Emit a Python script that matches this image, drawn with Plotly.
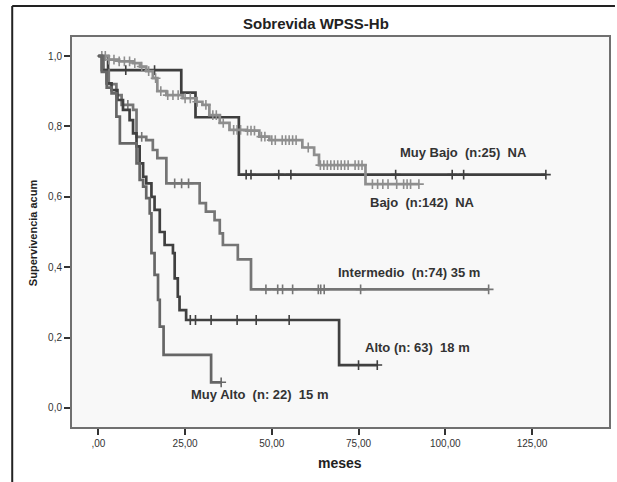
import numpy as np
import plotly.graph_objects as go

# ---- data ----
groups = ["Muy Bajo", "Bajo", "Intermedio", "Alto", "Muy Alto"]
labels = ["Muy Bajo  (n:25)  NA", "Bajo  (n:142)  NA", "Intermedio  (n:74) 35 m",
          "Alto (n: 63)  18 m", "Muy Alto  (n: 22)  15 m"]

muy_bajo_t = [0, 2.8, 23.9, 28.0, 40.5, 129.0]
muy_bajo_s = [1.0, 0.96, 0.896, 0.826, 0.663, 0.663]
muy_bajo_cens = [7.9, 16.2, 42.6, 44.0, 52.0, 55.5, 85.7, 102.0, 105.3, 129.0]

bajo_t = [0, 3.0, 6.0, 10.0, 12.0, 13.8, 15.7, 17.0, 19.6, 24.3, 28.0, 30.0, 32.0, 35.0,
          37.8, 42.6, 46.4, 49.3, 58.8, 62.2, 63.6, 77.0, 92.4]
bajo_s = [1.0, 0.99, 0.985, 0.98, 0.97, 0.957, 0.937, 0.90, 0.889, 0.88, 0.87, 0.861, 0.832, 0.81,
          0.79, 0.788, 0.771, 0.761, 0.74, 0.719, 0.69, 0.636, 0.636]
bajo_cens = [1, 2, 3, 4.5, 6, 7.5, 9, 10.5, 12.5, 14.5, 16.5, 18, 20, 21.5, 23, 25, 26.5, 28.5,
             31, 33, 34, 36, 39, 40, 41, 43, 44, 45, 47, 48, 50, 51, 53, 54, 55, 56, 57, 60.5,
             64, 65, 66, 67, 68, 69, 70, 71, 72, 74, 75, 76, 79, 80.5, 82, 83.5, 86, 88, 89, 90, 92.4]

inter_t = [0, 1.5, 3.0, 5.2, 6.7, 10.0, 11.0, 13.8, 15.7, 17.0, 19.6, 29.2, 31.0, 33.5, 35.0,
           35.9, 40.2, 44.0, 112.5]
inter_s = [1.0, 0.96, 0.92, 0.889, 0.861, 0.847, 0.77, 0.761, 0.733, 0.71, 0.638, 0.582, 0.558,
           0.534, 0.496, 0.463, 0.422, 0.337, 0.337]
inter_cens = [8.5, 12.5, 22, 24, 26, 48.3, 51.7, 53.1, 56.0, 64.1, 65.1, 63.4, 75.6, 112.5]

alto_t = [0, 1.0, 2.4, 3.8, 5.5, 7.1, 9.0, 10.0, 11.0, 11.9, 12.9, 13.8, 15.3, 16.2, 17.7,
          19.1, 21.5, 22.0, 22.9, 23.4, 25.3, 69.4, 80.4]
alto_s = [1.0, 0.96, 0.922, 0.903, 0.875, 0.847, 0.818, 0.78, 0.743, 0.695, 0.657, 0.638, 0.60,
          0.563, 0.50, 0.463, 0.44, 0.368, 0.316, 0.278, 0.25, 0.122, 0.122]
alto_cens = [26.5, 28.0, 32.5, 40.0, 45.5, 55.0, 75.0, 80.4]

muy_alto_t = [0, 1.0, 2.4, 3.8, 5.2, 6.2, 11.0, 11.9, 12.9, 13.8, 14.8, 15.3, 16.2, 17.2, 17.7,
              18.8, 32.5, 35.4]
muy_alto_s = [1.0, 0.955, 0.91, 0.894, 0.828, 0.752, 0.695, 0.648, 0.629, 0.596, 0.553, 0.44,
              0.378, 0.307, 0.231, 0.151, 0.073, 0.073]
muy_alto_cens = [35.4]

x_ticks = [0, 25, 50, 75, 100, 125]
x_ticktext = [",00", "25,00", "50,00", "75,00", "100,00", "125,00"]
y_ticks = [0.0, 0.2, 0.4, 0.6, 0.8, 1.0]
y_ticktext = ["0,0", "0,2", "0,4", "0,6", "0,8", "1,0"]

# label anchor positions (data coords)
label_x = [105.3, 93.5, 89.5, 92.0, 46.5]
label_y = [0.725, 0.583, 0.385, 0.173, 0.037]

series = [
    (muy_bajo_t, muy_bajo_s, muy_bajo_cens, "#3e3e3e"),
    (bajo_t, bajo_s, bajo_cens, "#8e8e8e"),
    (inter_t, inter_s, inter_cens, "#757575"),
    (alto_t, alto_s, alto_cens, "#404040"),
    (muy_alto_t, muy_alto_s, muy_alto_cens, "#666666"),
]

FONT = "Liberation Sans, Arial"

fig = go.Figure()
for name, (t, s, cens, col) in zip(groups, series):
    fig.add_trace(go.Scatter(x=t, y=s, mode="lines", line=dict(color=col, width=2.7, shape="hv"),
                             name=name, showlegend=False, hoverinfo="skip"))
    t_arr = np.array(t)
    s_arr = np.array(s)
    idx = np.searchsorted(t_arr, np.array(cens), side="right") - 1
    idx = np.clip(idx, 0, len(s_arr) - 1)
    fig.add_trace(go.Scatter(x=cens, y=s_arr[idx], mode="markers",
                             marker=dict(symbol="cross-thin", size=7, line=dict(color=col, width=1.6)),
                             showlegend=False, hoverinfo="skip"))

for txt, lx, ly in zip(labels, label_x, label_y):
    fig.add_annotation(x=lx, y=ly, xref="x", yref="y",
                       text="<b>" + txt.replace("  ", "\u00a0 ") + "</b>", showarrow=False,
                       xanchor="center", yanchor="middle",
                       font=dict(family=FONT, size=13, color="#333333"))

W, H = 617, 482
L, R, T, B = 72, 6, 37, 55
pw, ph = W - L - R, H - T - B

def px(xp):
    return (xp - L) / pw

def py(yp):
    return (H - B - yp) / ph

# title, axis titles
fig.add_annotation(x=px(317), y=py(24), xref="paper", yref="paper", text="<b>Sobrevida WPSS-Hb</b>",
                   showarrow=False, xanchor="center", yanchor="middle",
                   font=dict(family=FONT, size=15, color="#222222"))
fig.add_annotation(x=px(341), y=py(463), xref="paper", yref="paper", text="<b>meses</b>",
                   showarrow=False, xanchor="center", yanchor="middle",
                   font=dict(family=FONT, size=14, color="#222222"))
fig.add_annotation(x=px(33), y=py(233), xref="paper", yref="paper", text="<b>Supervivencia acum</b>",
                   textangle=-90, showarrow=False, xanchor="center", yanchor="middle",
                   font=dict(family=FONT, size=11, color="#222222"))

# outer frame lines
fig.add_shape(type="line", xref="paper", yref="paper", x0=px(12), x1=px(12), y0=py(6), y1=py(482),
              line=dict(color="#222222", width=2))
fig.add_shape(type="line", xref="paper", yref="paper", x0=px(12), x1=px(617), y0=py(6), y1=py(6),
              line=dict(color="#222222", width=2))

fig.update_layout(
    width=W, height=H,
    margin=dict(l=L, r=R, t=T, b=B),
    paper_bgcolor="white", plot_bgcolor="#f8f8f8",
    xaxis=dict(range=[-7.6, 147.2], tickvals=x_ticks, ticktext=x_ticktext, showgrid=False,
               zeroline=False, showline=True, linecolor="#707070", linewidth=2, mirror=True,
               ticks="outside", ticklen=6, tickwidth=2, tickcolor="#333333",
               tickfont=dict(family=FONT, size=10, color="#333333")),
    yaxis=dict(range=[-0.054, 1.054], tickvals=y_ticks, ticktext=y_ticktext, showgrid=False,
               zeroline=False, showline=True, linecolor="#707070", linewidth=2, mirror=True,
               ticks="outside", ticklen=6, tickwidth=2, tickcolor="#333333",
               tickfont=dict(family=FONT, size=10, color="#333333")),
)

fig.write_html("out.html", config={"displayModeBar": False})
